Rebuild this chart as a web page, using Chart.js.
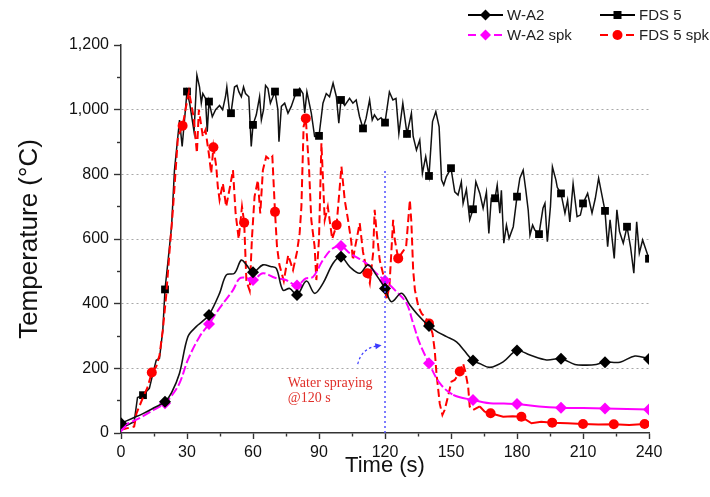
<!DOCTYPE html>
<html><head><meta charset="utf-8">
<script src="https://cdn.jsdelivr.net/npm/chart.js@4.4.0/dist/chart.umd.min.js"></script>
<style>html,body{margin:0;padding:0;background:#fff;}#wrap{width:710px;height:497px;}</style>
</head><body><div id="wrap"><canvas id="c" width="710" height="497"></canvas></div>
<script>
// ---- data ----
const wa2T = [0,5,10,15,20,23,26.6,30.4,34.2,37,40,44.8,47.9,51.6,54.7,57,60,64.5,68,70.6,73.6,76.7,80,84.3,88,91.8,96.4,100,104,108.5,112.3,116,120,122.9,127.5,131.3,135,140,144,148,152.5,156,160,163,167.7,173.7,180,185.9,193.4,200,206.3,211.6,216,220,226.8,233.6,240];
const wa2V = [30,45,60,78,97,125,185,298,329,345,365,432,489,494,535,520,497,520,515,509,442,447,427,470,432,463,525,545,514,494,520,489,447,406,432,396,365,331,312,298,282,255,224,215,203,220,255,241,226,230,212,210,212,219,219,238,229];

const wa2sT = [0,5,10,15,20,23,26.6,30.4,35.7,40,44.8,50.9,53.9,57,60,64.5,70,75,80,84,87.3,91.8,96,100,104,111.5,116,120,125.2,129.8,132.8,135.8,140,144.9,151,160,167.7,174,180,190,200,210,220,230,240];
const wa2sV = [20,35,52,72,92,115,154,226,298,337,386,442,478,480,473,494,480,473,456,478,483,535,570,578,556,525,494,471,437,401,339,277,216,154,118,102,92,91,90,82,78,77,76,74,73];

const fdsT = [0,3,6,7.5,10,12.9,14.5,16,17.5,19,20,21.5,23,24.3,26.6,27.8,30,31.2,33.2,34.5,35.7,36.5,37.2,38.4,39.2,40,41.5,43,44.8,46.2,47.5,48.1,49.4,50,51.6,52.7,53.6,54.7,55.7,56.6,58.1,59.2,60,61.5,63,63.8,64.8,65.7,66.8,67.9,70,71.3,71.8,72.9,74.4,75.9,77.4,78.9,80,81.2,82.7,83.5,84.5,86.5,88,90,91.8,93.3,94.8,96.4,97.9,99,100,101.7,103.9,105.4,106.9,108.4,110,111.4,113,114.2,115.2,116.7,118.2,120,122,123.6,125,126.3,128.1,130,132,132.8,134.3,135.8,137,138.5,140,141.6,143.1,144.6,145.7,146.7,147.9,150,151.7,153.2,154.7,155.5,157,158.5,160,161.3,163.1,164.6,166.1,167.2,168.3,170,171,172.2,172.9,174,175.2,176.4,178.3,180,181.3,182.8,184,185.1,185.9,187.1,188.1,190,191.8,192.7,193.8,195.2,196.1,197.7,198.3,200,201.8,203,204,205.5,207.3,208.8,210,212.1,214.1,215.6,217.1,218.6,220,221.2,222.3,224.2,225.4,226.6,228.3,230,231.6,233.1,234.4,235.6,237.1,240];
const fdsV = [20,25,35,110,117,138,184,225,231,318,444,540,640,813,968,886,1056,1020,932,1107,1070,1020,1050,1035,932,1025,978,1000,1013,1000,1040,1070,989,989,1070,1075,1055,1040,1070,1050,1040,886,953,984,1040,968,1000,1075,1065,1020,1056,1000,901,1010,1020,989,1010,1040,1053,1066,1050,990,1055,989,917,919,1020,1050,1040,1082,1040,958,1030,1013,1035,1020,1030,979,942,973,1030,968,984,968,975,960,1055,1030,1035,926,1020,925,989,917,875,906,803,855,795,963,994,947,783,767,793,819,746,736,777,710,753,659,692,777,741,695,745,617,726,726,767,680,751,587,643,602,638,731,788,813,751,689,612,643,628,615,695,710,592,700,823,782,760,741,680,720,653,771,669,674,710,741,680,726,788,736,687,576,659,540,690,623,587,638,576,494,653,556,597,539];

const fdssT = [0,3,6,7,10,12,14,16,17.5,19,20.5,22,23.6,25.9,28,29.6,30.9,33,34.5,35.4,37.2,38.4,40,41,42,43.3,44,44.8,46.3,47.8,49.5,50.9,52.1,53.5,55,56,57,58.5,59.5,60.7,62.2,63.3,64.5,66,67.6,68.8,70,70.9,72,74,76,78.2,80,81.2,82,83,84,85.5,86.5,88,88.8,90,91.1,92.6,94,96,98,100.2,101.7,103.2,104.7,105.4,106.2,108.5,110,112,113.1,114.6,115.3,116.1,117.6,119.8,120.6,122,123.7,124.4,126,128,129.6,131.3,132,132.8,133.6,135.2,136.7,138.2,140,141.6,142.6,143.4,144.9,146.1,147.1,148.6,150.2,151.7,154,155.5,156.5,157.8,158.5,160,163.1,165.3,168,173.7,178,182,186.6,191,196,203,210,217,224,231,238,240];
const fdssV = [10,15,20,60,110,140,187,205,240,318,422,556,690,917,950,1010,1056,978,866,1000,917,937,860,803,884,824,762,721,772,700,760,813,679,600,700,650,470,440,600,731,782,679,813,855,845,855,684,577,520,470,550,504,560,618,700,948,973,813,659,577,473,600,896,659,700,600,643,824,720,659,590,535,567,649,560,494,463,556,690,628,535,473,411,452,659,600,540,560,576,721,650,504,442,390,369,359,339,308,256,184,90,56,71,112,159,164,190,215,190,143,82,71,82,66,61,50,52,50,30,35,32,30,28,26,27,25,28,28];

const sprayT = [120,120];
const sprayV = [0,810];

const xTicks = [0,30,60,90,120,150,180,210,240];
const yTicks = [0,200,400,600,800,1000,1200];
const seriesNames = ['W-A2','W-A2 spk','FDS 5','FDS 5 spk'];

// ---- helpers ----
const FONT = '"Liberation Sans", Arial, sans-serif';
const pts = (T,V) => T.map((t,i)=>({x:t,y:V[i]}));
const every = (step, r, skipZero) => c => {
  const x = c.raw && c.raw.x;
  if (x === undefined) return 0;
  if (skipZero && x === 0) return 0;
  return Math.abs(x/step - Math.round(x/step)) < 1e-6 ? r : 0;
};

const annotPlugin = {
  id:'annot',
  afterDatasetsDraw(chart){
    const c = chart.ctx, xs = chart.scales.x, ys = chart.scales.y;
    const p0=[xs.getPixelForValue(107.6), ys.getPixelForValue(213)];
    const pc=[xs.getPixelForValue(109.4), ys.getPixelForValue(262)];
    const p1=[xs.getPixelForValue(116.2), ys.getPixelForValue(269)];
    c.save();
    c.strokeStyle='#3a3aff'; c.lineWidth=1.2; c.setLineDash([2.5,2.5]);
    c.beginPath(); c.moveTo(p0[0],p0[1]); c.quadraticCurveTo(pc[0],pc[1],p1[0],p1[1]); c.stroke();
    c.setLineDash([]);
    const ang = Math.atan2(p1[1]-pc[1], p1[0]-pc[0]);
    const tip=[p1[0]+5*Math.cos(ang), p1[1]+5*Math.sin(ang)];
    c.fillStyle='#3a3aff';
    c.beginPath();
    c.moveTo(tip[0],tip[1]);
    c.lineTo(tip[0]-7*Math.cos(ang-0.45), tip[1]-7*Math.sin(ang-0.45));
    c.lineTo(tip[0]-7*Math.cos(ang+0.45), tip[1]-7*Math.sin(ang+0.45));
    c.closePath(); c.fill();
    c.fillStyle='#e0302a';
    c.font='14px "Liberation Serif", "Times New Roman", serif';
    c.textAlign='left'; c.textBaseline='middle';
    const tx = xs.getPixelForValue(75.8);
    c.fillText('Water spraying', tx, ys.getPixelForValue(155));
    c.fillText('@120 s', tx, ys.getPixelForValue(106));
    c.restore();
  }
};

function marker(c, style, x, y, color){
  c.save(); c.fillStyle=color; c.setLineDash([]);
  c.beginPath();
  if(style==='diamond'){ c.moveTo(x,y-5.5); c.lineTo(x+5.5,y); c.lineTo(x,y+5.5); c.lineTo(x-5.5,y); c.closePath(); }
  else if(style==='square'){ c.rect(x-4,y-4,8,8); }
  else { c.arc(x,y,5,0,Math.PI*2); }
  c.fill(); c.restore();
}
const legendPlugin = {
  id:'legendCustom',
  afterDraw(chart){
    const c = chart.ctx;
    const items = [
      {label:seriesNames[0], color:'#000', dash:[], style:'diamond', x:468, y:15},
      {label:seriesNames[2], color:'#000', dash:[], style:'square', x:600, y:15},
      {label:seriesNames[1], color:'#ff00ff', dash:[8,5], style:'diamond', x:468, y:35},
      {label:seriesNames[3], color:'#ff0000', dash:[8,5], style:'circle', x:600, y:35}
    ];
    items.forEach(it=>{
      c.save();
      c.strokeStyle=it.color; c.lineWidth=2; c.setLineDash(it.dash);
      c.beginPath(); c.moveTo(it.x,it.y); c.lineTo(it.x+35,it.y); c.stroke();
      c.restore();
      marker(c, it.style, it.x+17.5, it.y, it.color);
      c.save();
      c.fillStyle='#222'; c.font='15px '+FONT; c.textAlign='left'; c.textBaseline='middle';
      c.fillText(it.label, it.x+39, it.y+1);
      c.restore();
    });
  }
};

new Chart(document.getElementById('c'), {
  type:'line',
  data:{datasets:[
    {label:'spray', data:pts(sprayT,sprayV), borderColor:'#5050ff', borderWidth:1.5, borderDash:[2,3], pointRadius:0, fill:false},
    {label:seriesNames[0], data:pts(wa2T,wa2V), borderColor:'#111', backgroundColor:'#000', borderWidth:1.6, tension:0.35,
      pointStyle:'rectRot', pointRadius:every(20,6,false), pointBorderWidth:0, fill:false},
    {label:seriesNames[1], data:pts(wa2sT,wa2sV), borderColor:'#ff00ff', backgroundColor:'#ff00ff', borderWidth:2, tension:0.35,
      borderDash:[9,3], segment:{borderDash:c=> c.p0.parsed.x>=150 ? [] : [9,3]},
      pointStyle:'rectRot', pointRadius:every(20,6,false), pointBorderWidth:0, fill:false},
    {label:seriesNames[3], data:pts(fdssT,fdssV), borderColor:'#ff0000', backgroundColor:'#ff0000', borderWidth:2, tension:0,
      borderDash:[8,4], segment:{borderDash:c=> c.p0.parsed.x>=163 ? [] : [8,4]},
      pointStyle:'circle', pointRadius:every(14,5,true), pointBorderWidth:0, fill:false},
    {label:seriesNames[2], data:pts(fdsT,fdsV), borderColor:'#111', backgroundColor:'#000', borderWidth:1.5, tension:0,
      pointStyle:'rect', pointRadius:every(10,5.5,true), pointBorderWidth:0, fill:false}
  ]},
  options:{
    responsive:false, animation:false, events:[],
    layout:{padding:{left:0,right:61,top:45,bottom:0}},
    plugins:{legend:{display:false}, tooltip:{enabled:false}},
    scales:{
      x:{type:'linear', min:0, max:240,
        afterBuildTicks:s=>{ const t=[]; for(let v=0; v<=240; v+=15) t.push({value:v}); s.ticks=t; },
        ticks:{autoSkip:false, maxRotation:0, padding:4, color:'#111', font:{size:16,family:FONT},
          callback:v=> xTicks.includes(v) ? String(v) : ''},
        grid:{drawOnChartArea:false, tickLength:6, tickWidth:1.4, tickColor:'#333',
          tickBorderDash:c=> (c.tick && !xTicks.includes(c.tick.value)) ? [3,20] : []},
        border:{color:'#333', width:1.5},
        title:{display:true, text:'Time (s)', color:'#111', font:{size:22,family:FONT}, padding:{top:0,bottom:18}},
        afterFit:s=>{ s.height=64; }
      },
      y:{type:'linear', min:0, max:1200,
        afterBuildTicks:s=>{ const t=[]; for(let v=0; v<=1200; v+=100) t.push({value:v}); s.ticks=t; },
        ticks:{autoSkip:false, padding:5, color:'#111', font:{size:16,family:FONT},
          callback:v=> yTicks.includes(v) ? v.toLocaleString('en-US') : ''},
        grid:{drawOnChartArea:true, tickLength:7, tickWidth:1.4, tickColor:'#333', lineWidth:1,
          color:c=> (c.tick && yTicks.includes(c.tick.value) && c.tick.value>0 && c.tick.value<1200) ? '#a8a8a8' : 'rgba(0,0,0,0)',
          tickBorderDash:c=> (c.tick && !yTicks.includes(c.tick.value)) ? [3,3] : [],
          tickBorderDashOffset:c=> (c.tick && !yTicks.includes(c.tick.value)) ? 3 : 0},
        border:{color:'#333', width:1.5, dash:[2,3]},
        title:{display:true, text:'Temperature (\u00B0C)', color:'#111', font:{size:26,family:FONT}, padding:{top:14,bottom:0}},
        afterFit:s=>{ s.width=121; }
      }
    }
  },
  plugins:[annotPlugin, legendPlugin]
});
</script>
</body></html>
